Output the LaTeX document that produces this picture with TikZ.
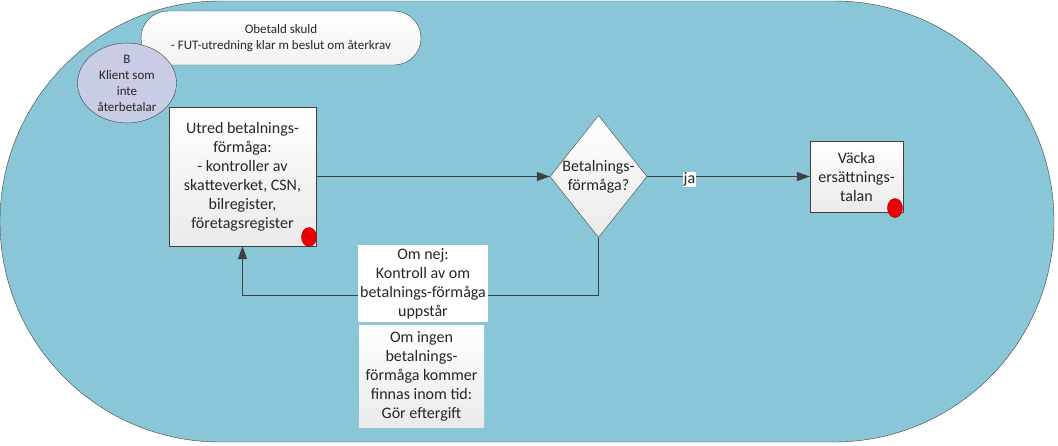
\documentclass[tikz,border=0pt]{standalone}
\usepackage{fontspec}
\setmainfont{Carlito}
\usetikzlibrary{shapes.geometric,arrows.meta}

\definecolor{poolblue}{RGB}{137,198,216}
\definecolor{boxgray}{RGB}{234,234,234}
\definecolor{lilac}{RGB}{200,204,228}
\definecolor{linegray}{RGB}{64,64,64}
\definecolor{dotred}{RGB}{232,0,0}

\begin{document}
\begin{tikzpicture}[
    x=1pt, y=-1pt,
    every node/.style={text=black!85, align=center, inner sep=2pt},
    task/.style={rectangle, draw=linegray, top color=white, bottom color=boxgray,
                 font=\fontsize{16}{19}\selectfont},
    note/.style={rectangle, fill=white, font=\fontsize{16}{19}\selectfont},
    flow/.style={draw=linegray, line width=1pt, -{Triangle[length=13pt,width=9pt]}},
    reddot/.style={ellipse, fill=dotred, draw=dotred!80!black, minimum width=15pt,
                   minimum height=19pt, inner sep=0pt}
]
  \useasboundingbox (0,0) rectangle (1058,445);

  % Pool
  \node[rectangle, draw=linegray, fill=poolblue, rounded corners=220pt,
        minimum width=1054pt, minimum height=441pt, inner sep=0pt] (pool) at (527,221.5) {};

  % Start
  \node[rectangle, draw=linegray, rounded corners=27pt, top color=white, bottom color=gray!10,
        minimum width=280pt, minimum height=54pt, font=\fontsize{13}{16}\selectfont]
        (skuld) at (281,38) {Obetald skuld\\- FUT-utredning klar m beslut om återkrav};
  \node[ellipse, draw=linegray, fill=lilac, minimum width=99pt, minimum height=73pt,
        inner sep=0pt, font=\fontsize{13}{16}\selectfont]
        (klient) at (127,83) {B\\Klient som\\inte\\återbetalar};

  % Tasks
  \node[task, minimum width=147pt, minimum height=139pt] (utred) at (242.5,176.5)
        {Utred betalnings-\\förmåga:\\- kontroller av\\skatteverket, CSN,\\bilregister,\\företagsregister};
  \node[diamond, draw=linegray, top color=white, bottom color=boxgray,
        minimum width=97pt, minimum height=122pt, inner sep=0pt] (dia) at (598.5,176.5) {};
  \node[font=\fontsize{16}{19}\selectfont] (diatext) at (dia) {Betalnings-\\förmåga?};
  \node[task, minimum width=93pt, minimum height=71pt] (vacka) at (856.5,176.5)
        {Väcka\\ersättnings-\\talan};

  \node[reddot] (utreddot) at (309,237) {};
  \node[reddot] (vackadot) at (895,208) {};

  % Flows
  \draw[flow] (utred.east) -- (dia.west);
  \draw[flow] (dia.east) -- node[pos=0.26, yshift=-3pt, fill=white, inner sep=1pt,
        font=\fontsize{16}{19}\selectfont] (ja) {ja} (vacka.west);
  \draw[flow] (dia.south) -- ++(0,58) -| (utred.south);

  % Notes
  \node[note, minimum width=128pt, minimum height=77pt] (omnej) at (423,283.5)
        {Om nej:\\Kontroll av om\\betalnings-förmåga\\uppstår};
  \node[note, top color=white, bottom color=boxgray, minimum width=125pt,
        minimum height=102pt] (omingen) at (421.5,376)
        {Om ingen\\betalnings-\\förmåga kommer\\finnas inom tid:\\Gör eftergift};
\end{tikzpicture}
\end{document}
